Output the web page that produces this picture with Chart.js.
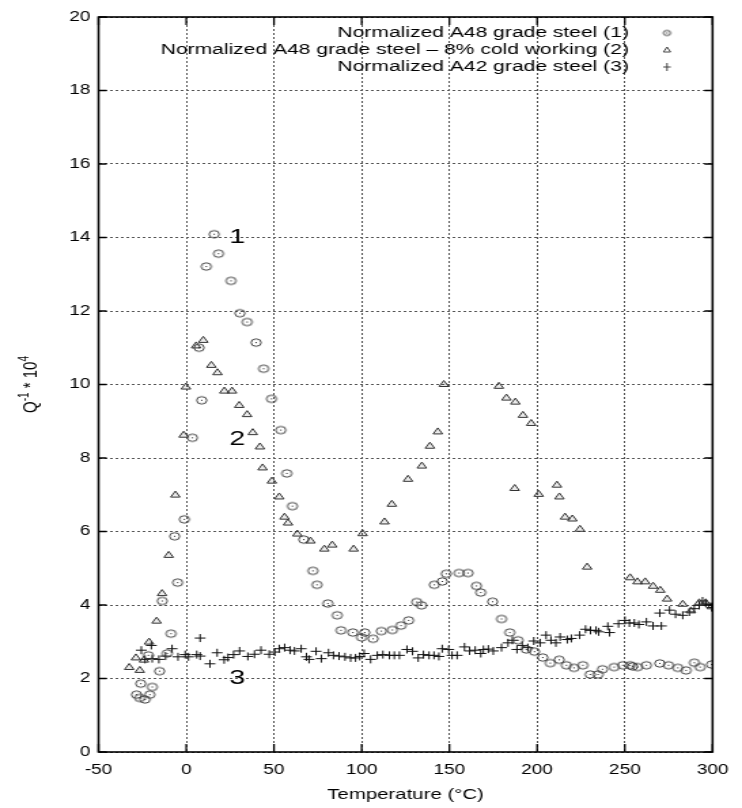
<!DOCTYPE html>
<html>
<head>
<meta charset="utf-8">
<script src="https://cdn.jsdelivr.net/npm/chart.js@4.4.0/dist/chart.umd.min.js"></script>
<style>
  html, body { margin: 0; padding: 0; background: #fff; overflow: hidden; }
  /* the reference plot is stretched sideways, so the canvas is too */
  #wrap { width: 546px; height: 808px; transform: scaleX(1.359); transform-origin: 0 0; }
</style>
</head>
<body>
<div id="wrap"><canvas id="chart" width="546" height="808"></canvas></div>
<script>
const seriesNames = [
  'Normalized A48 grade steel (1)',
  'Normalized A48 grade steel \u2013 8% cold working (2)',
  'Normalized A42 grade steel (3)'
]

// Normalized A48 (1) - circles
const a48X = [-28.4, -26.5, -25.9, -23.5, -21.6, -20.8, -19.4, -15.2, -13.7, -10.9, -8.7, -6.6, -4.9, -1.1, 3.5, 7.3, 8.8, 11.4, 15.9, 18.4, 25.5, 30.6, 34.7, 39.8, 44.1, 48.6, 53.9, 57.3, 60.5, 67, 72.2, 74.5, 80.7, 86, 88.2, 95, 99.9, 101.7, 106.5, 111.2, 117.5, 122.4, 126.8, 131.4, 134.1, 141.4, 145.9, 148.2, 155.5, 160.6, 165.4, 167.9, 174.6, 179.7, 184.4, 189.1, 193.8, 198.5, 203.2, 207.5, 212.6, 216.7, 221, 226.1, 230.2, 234.7, 237.2, 243.9, 248.8, 253, 254.4, 257.2, 262.3, 269.9, 274.9, 280.2, 284.9, 289.6, 292.9, 299.5]
const a48Y = [1.56, 1.47, 1.86, 1.43, 2.63, 1.56, 1.77, 2.2, 4.11, 2.68, 3.22, 5.87, 4.61, 6.33, 8.55, 11.0, 9.57, 13.21, 14.09, 13.56, 12.82, 11.94, 11.7, 11.14, 10.43, 9.61, 8.76, 7.58, 6.69, 5.78, 4.93, 4.55, 4.04, 3.72, 3.31, 3.25, 3.12, 3.25, 3.08, 3.29, 3.32, 3.44, 3.58, 4.08, 3.99, 4.55, 4.64, 4.85, 4.87, 4.87, 4.52, 4.34, 4.09, 3.62, 3.25, 3.04, 2.79, 2.73, 2.57, 2.42, 2.51, 2.36, 2.29, 2.36, 2.11, 2.11, 2.25, 2.31, 2.36, 2.36, 2.33, 2.31, 2.36, 2.41, 2.36, 2.29, 2.22, 2.43, 2.31, 2.38]

// A48 with 8% cold working (2) - triangles
const coldX = [-32.5, -28.7, -26.5, -24.1, -21.2, -16.9, -13.8, -10, -6.2, -1.5, -0.2, 5.6, 9.7, 14.3, 17.8, 21.7, 26.1, 30.2, 34.7, 37.9, 42, 43.5, 48.8, 53, 56, 58, 63.3, 70.8, 78.7, 83.2, 95.4, 100.5, 113, 117.2, 126.4, 134.3, 138.9, 143.4, 146.8, 178.2, 182.5, 187.2, 187.6, 191.9, 196.6, 200.9, 211.3, 212.7, 215.9, 220.1, 224.4, 228.5, 253, 257.2, 261.6, 266.1, 270.2, 274.1, 283, 287.7, 292.4, 296.1, 299.5]
const coldY = [2.3, 2.56, 2.22, 2.5, 2.99, 3.56, 4.31, 5.35, 6.99, 8.62, 9.93, 11.05, 11.2, 10.52, 10.32, 9.82, 9.82, 9.43, 9.18, 8.69, 8.3, 7.73, 7.37, 6.94, 6.39, 6.23, 5.93, 5.74, 5.52, 5.63, 5.52, 5.94, 6.26, 6.74, 7.42, 7.78, 8.32, 8.71, 10.0, 9.95, 9.63, 7.17, 9.52, 9.16, 8.94, 7.01, 7.26, 6.94, 6.39, 6.34, 6.06, 5.03, 4.74, 4.63, 4.63, 4.51, 4.4, 4.16, 4.02, 3.84, 4.06, 4.06, 3.95]

// Normalized A42 (3) - plus signs
const a42X = [-25.6, -23.5, -19.9, -19.4, -15.6, -11.8, -8.1, -4.7, -0.6, 1.3, 6, 7.9, 7.9, 13.5, 17.6, 21.6, 23.8, 27, 30.4, 35.1, 38.9, 42.6, 47.3, 50.5, 53, 56.1, 59.2, 61.7, 65.5, 68.5, 70, 74, 77, 81.1, 83.9, 87.1, 90.5, 93.7, 96.5, 98.9, 101.4, 105.1, 108.9, 112.1, 115.8, 118.6, 121.5, 125.8, 129, 132.2, 135.2, 138.4, 141.2, 144, 145.9, 149.6, 151.5, 154.4, 158.6, 161.5, 164.7, 167.9, 169.4, 172.2, 175, 179.7, 183.4, 185.9, 188.5, 191.5, 194.7, 198.1, 201.7, 205.1, 207.9, 210.7, 213.1, 217.2, 219.5, 224.2, 227.6, 230.4, 233.6, 235.1, 240.3, 241.3, 246.4, 250.1, 252.6, 255.4, 258, 262.3, 266.1, 269.9, 270.8, 275.5, 278.9, 283, 286.8, 289.6, 292.4, 294.3, 296.1, 299.5]
const a42Y = [2.77, 2.52, 2.9, 2.54, 2.52, 2.61, 2.81, 2.59, 2.65, 2.59, 2.65, 3.1, 2.61, 2.4, 2.7, 2.51, 2.57, 2.65, 2.75, 2.6, 2.66, 2.77, 2.66, 2.72, 2.81, 2.84, 2.77, 2.75, 2.81, 2.59, 2.52, 2.74, 2.54, 2.7, 2.63, 2.61, 2.59, 2.56, 2.56, 2.6, 2.68, 2.52, 2.63, 2.65, 2.63, 2.63, 2.63, 2.79, 2.74, 2.56, 2.65, 2.63, 2.63, 2.6, 2.81, 2.79, 2.63, 2.63, 2.86, 2.75, 2.77, 2.68, 2.79, 2.8, 2.75, 2.84, 2.97, 3.04, 2.79, 2.9, 2.84, 3.02, 2.97, 3.18, 3.04, 2.97, 3.13, 3.06, 3.09, 3.18, 3.34, 3.31, 3.31, 3.27, 3.42, 3.25, 3.49, 3.58, 3.51, 3.51, 3.47, 3.54, 3.43, 3.78, 3.43, 3.86, 3.75, 3.72, 3.81, 3.9, 3.99, 4.11, 4.05, 3.93]

// curve numbers written on the plot
const curveLabels = ['1', '2', '3']
const curveLabelX = [29, 29, 29]
const curveLabelY = [14, 8.5, 2]

const xTicks = [-50, 0, 50, 100, 150, 200, 250, 300]
const yTicks = [0, 2, 4, 6, 8, 10, 12, 14, 16, 18, 20]

// y axis title pieces: [text, superscript?]
const yTitleParts = [['Q', false], ['-1', true], [' * 10', false], ['4', true]]

const FONT = "'Liberation Sans', Arial, sans-serif"
const ink = '#333'

function toPoints(xs, ys) {
  return xs.map((x, i) => ({ x: x, y: ys[i] }))
}

// circle with a dot in the middle, like gnuplot's point type 6
function makeDotCircle(r) {
  const c = document.createElement('canvas')
  const s = Math.ceil(r * 2 + 3)
  c.width = s
  c.height = s
  const g = c.getContext('2d')
  g.strokeStyle = '#3a3a3a'
  g.lineWidth = 1
  g.beginPath()
  g.arc(s / 2, s / 2, r, 0, Math.PI * 2)
  g.stroke()
  g.fillStyle = '#222'
  g.fillRect(s / 2 - 0.5, s / 2 - 0.5, 1, 1)
  return c
}

const dotCircle = makeDotCircle(3.7)
const dotCircleSmall = makeDotCircle(2.6)

// frame, inward ticks, legend, y title and curve numbers
const gnuplotDecor = {
  id: 'gnuplotDecor',
  afterDraw(chart) {
    const { ctx, chartArea: a, scales } = chart
    const xs = scales.x
    const ys = scales.y
    ctx.save()

    ctx.strokeStyle = '#000'
    ctx.lineWidth = 1.3
    ctx.beginPath()
    xTicks.forEach(v => {
      const px = xs.getPixelForValue(v)
      ctx.moveTo(px, a.bottom); ctx.lineTo(px, a.bottom - 8)
      ctx.moveTo(px, a.top); ctx.lineTo(px, a.top + 8)
    })
    yTicks.forEach(v => {
      const py = ys.getPixelForValue(v)
      ctx.moveTo(a.left, py); ctx.lineTo(a.left + 6, py)
      ctx.moveTo(a.right, py); ctx.lineTo(a.right - 6, py)
    })
    ctx.stroke()
    ctx.lineWidth = 1.6
    ctx.strokeRect(a.left, a.top, a.right - a.left, a.bottom - a.top)

    // legend, right aligned, top right of the plot
    ctx.fillStyle = '#000'
    ctx.font = '15.5px ' + FONT
    ctx.textAlign = 'right'
    ctx.textBaseline = 'middle'
    const textRight = 462.8
    const markX = 490.8
    seriesNames.forEach((name, i) => {
      ctx.fillText(name, textRight, 33 + i * 17)
    })
    ctx.drawImage(dotCircleSmall, markX - dotCircleSmall.width / 2, 33 - dotCircleSmall.height / 2)
    ctx.strokeStyle = '#444'
    ctx.lineWidth = 1
    ctx.beginPath()
    ctx.moveTo(markX, 47); ctx.lineTo(markX + 2.6, 52); ctx.lineTo(markX - 2.6, 52); ctx.closePath()
    ctx.moveTo(markX - 2.8, 67); ctx.lineTo(markX + 2.8, 67)
    ctx.moveTo(markX, 63); ctx.lineTo(markX, 71)
    ctx.stroke()

    // y axis title with superscripts, read bottom to top
    ctx.save()
    ctx.translate(22, (a.top + a.bottom) / 2)
    ctx.rotate(-Math.PI / 2)
    ctx.textAlign = 'left'
    ctx.textBaseline = 'alphabetic'
    let total = 0
    yTitleParts.forEach(([t, sup]) => {
      ctx.font = (sup ? '10px ' : '15px ') + FONT
      total += ctx.measureText(t).width
    })
    let cx = -total / 2
    yTitleParts.forEach(([t, sup]) => {
      ctx.font = (sup ? '10px ' : '15px ') + FONT
      ctx.fillText(t, cx, sup ? -1 : 5)
      cx += ctx.measureText(t).width
    })
    ctx.restore()

    // curve numbers
    ctx.fillStyle = '#000'
    ctx.font = '21px ' + FONT
    ctx.textAlign = 'center'
    ctx.textBaseline = 'middle'
    curveLabels.forEach((t, i) => {
      ctx.fillText(t, xs.getPixelForValue(curveLabelX[i]), ys.getPixelForValue(curveLabelY[i]))
    })
    ctx.restore()
  }
}

const ctx = document.getElementById('chart').getContext('2d')

new Chart(ctx, {
  type: 'scatter',
  data: {
    datasets: [
      {
        label: seriesNames[0],
        data: toPoints(a48X, a48Y),
        pointStyle: dotCircle,
        pointRadius: 3.7,
        borderColor: '#3a3a3a',
        backgroundColor: 'rgba(0,0,0,0)'
      },
      {
        label: seriesNames[1],
        data: toPoints(coldX, coldY),
        pointStyle: 'triangle',
        pointRadius: 4,
        borderWidth: 1,
        borderColor: ink,
        backgroundColor: 'rgba(0,0,0,0.08)'
      },
      {
        label: seriesNames[2],
        data: toPoints(a42X, a42Y),
        pointStyle: 'cross',
        pointRadius: 4,
        borderWidth: 1,
        borderColor: '#111',
        backgroundColor: '#111'
      }
    ]
  },
  options: {
    responsive: false,
    animation: false,
    events: [],
    layout: {
      padding: { top: 17, right: 15, left: 0, bottom: 0 }
    },
    plugins: {
      legend: { display: false },
      tooltip: { enabled: false }
    },
    scales: {
      x: {
        type: 'linear',
        min: -50,
        max: 300,
        afterFit: scale => { scale.height = 56 },
        afterBuildTicks: scale => { scale.ticks = xTicks.map(v => ({ value: v })) },
        grid: {
          color: '#555',
          lineWidth: 1,
          drawTicks: false
        },
        border: { display: false, dash: [2, 2] },
        ticks: {
          color: '#000',
          padding: 10,
          maxRotation: 0,
          font: { size: 14, family: FONT }
        },
        title: {
          display: true,
          text: 'Temperature (\u00b0C)',
          color: '#000',
          font: { size: 15, family: FONT },
          padding: { top: 0, bottom: 4 }
        }
      },
      y: {
        type: 'linear',
        min: 0,
        max: 20,
        afterFit: scale => { scale.width = 72.5 },
        afterBuildTicks: scale => { scale.ticks = yTicks.map(v => ({ value: v })) },
        grid: {
          color: '#555',
          lineWidth: 1,
          drawTicks: false
        },
        border: { display: false, dash: [2, 2] },
        ticks: {
          color: '#000',
          padding: 6,
          font: { size: 14, family: FONT }
        },
        title: { display: false }
      }
    }
  },
  plugins: [gnuplotDecor]
})
</script>
</body>
</html>
